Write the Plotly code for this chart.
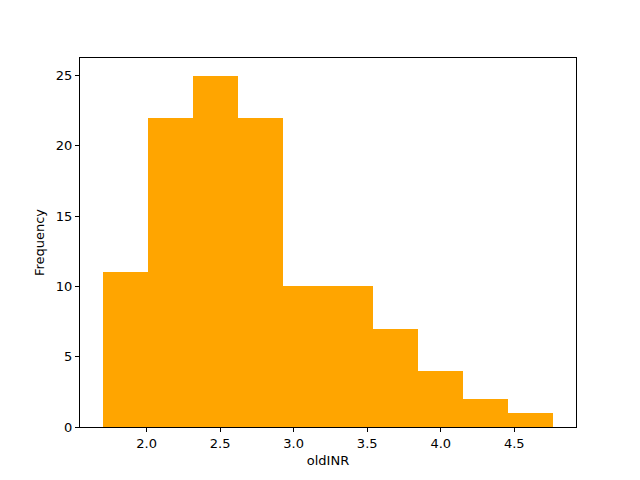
import plotly.graph_objects as go

bin_edges = [1.70, 2.0067, 2.3133, 2.62, 2.9267, 3.2333, 3.54, 3.8467, 4.1533, 4.46, 4.7667]
counts = [11, 22, 25, 22, 10, 10, 7, 4, 2, 1]
x_ticks = [2.0, 2.5, 3.0, 3.5, 4.0, 4.5]
y_ticks = [0, 5, 10, 15, 20, 25]

centers = [(a + b) / 2 for a, b in zip(bin_edges[:-1], bin_edges[1:])]
widths = [b - a for a, b in zip(bin_edges[:-1], bin_edges[1:])]

span = bin_edges[-1] - bin_edges[0]
xr = [bin_edges[0] - 0.05 * span, bin_edges[-1] + 0.05 * span]
yr = [0, max(counts) * 1.05]

fig = go.Figure(go.Bar(x=centers, y=counts, width=widths, marker=dict(color="#FFA500", line=dict(width=0))))

axis_common = dict(showline=True, linecolor="black", linewidth=1, mirror=True, ticks="outside",
                   ticklen=4, tickwidth=1, tickcolor="black", showgrid=False, zeroline=False,
                   tickfont=dict(size=13, color="black"))

fig.update_layout(
    width=632, height=472,
    margin=dict(l=72, r=64, t=50, b=53),
    plot_bgcolor="white", paper_bgcolor="white",
    font=dict(family="DejaVu Sans", color="black", size=13),
    bargap=0,
    showlegend=False,
    xaxis=dict(range=xr, tickvals=x_ticks, ticktext=[f"{v:.1f}" for v in x_ticks],
               title=dict(text="oldINR", font=dict(size=13), standoff=6), **axis_common),
    yaxis=dict(range=yr, tickvals=y_ticks, title=dict(text="Frequency", font=dict(size=13), standoff=8),
               **axis_common),
)

fig.write_html("out.html")
